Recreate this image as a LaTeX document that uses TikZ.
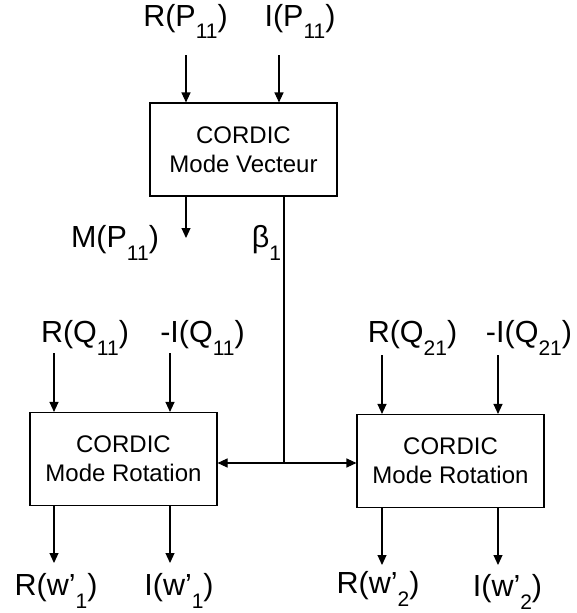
\documentclass[tikz,border=0pt]{standalone}
\usepackage{fontspec}
\setmainfont{Liberation Sans}
\usetikzlibrary{arrows.meta}

\newcommand{\idx}[1]{\raisebox{-13pt}{\fontsize{21}{21}\selectfont #1}}

\tikzset{
    cordic/.style={draw, line width=1.1pt, minimum width=187pt, minimum height=93pt,
        align=center, inner sep=0pt, font=\fontsize{24}{29}\selectfont},
    sig/.style={anchor=base, inner sep=0pt, font=\fontsize{30.5}{30.5}\selectfont},
    flow/.style={line width=1.1pt, -{Triangle[length=10pt,width=9pt]}},
    wire/.style={line width=1.1pt},
}

\begin{document}
\begin{tikzpicture}[x=1pt,y=-1pt]
    \useasboundingbox (0,0) rectangle (577,613);

    % Blocks
    \node[cordic] (vec)  at (243.5,149.5) {CORDIC\\Mode Vecteur};
    \node[cordic] (rot1) at (123.5,459)   {CORDIC\\Mode Rotation};
    \node[cordic] (rot2) at (450.5,461)   {CORDIC\\Mode Rotation};

    % Signals
    \node[sig] (rp)   at (185.5,26)  {R(P\idx{11})};
    \node[sig] (ip)   at (300,26)    {I(P\idx{11})};
    \node[sig] (mp)   at (115,247)   {M(P\idx{11})};
    \node[sig] (beta) at (266.5,247) {β\idx{1}};
    \node[sig] (rq1)  at (85,342)    {R(Q\idx{11})};
    \node[sig] (iq1)  at (202.5,342) {-I(Q\idx{11})};
    \node[sig] (rq2)  at (412.5,342) {R(Q\idx{21})};
    \node[sig] (iq2)  at (529,342)   {-I(Q\idx{21})};
    \node[sig] (rw1)  at (56,595)    {R(w’\idx{1})};
    \node[sig] (iw1)  at (179,595)   {I(w’\idx{1})};
    \node[sig] (rw2)  at (378,593)   {R(w’\idx{2})};
    \node[sig] (iw2)  at (507.5,596) {I(w’\idx{2})};

    % Arrow ends
    \coordinate (inrp)  at (186,55);
    \coordinate (inip)  at (279,55);
    \coordinate (outmp) at (186,238);
    \coordinate (split) at (284,463);
    \coordinate (inrq1) at (54,353);
    \coordinate (iniq1) at (170,353);
    \coordinate (inrq2) at (382,355);
    \coordinate (iniq2) at (498,355);
    \coordinate (outr1) at (54,563);
    \coordinate (outi1) at (170,563);
    \coordinate (outr2) at (382,565);
    \coordinate (outi2) at (498,565);

    % Connections
    \draw[flow] (inrp) -- (inrp |- vec.north);
    \draw[flow] (inip) -- (inip |- vec.north);
    \draw[flow] (vec.south -| outmp) -- (outmp);
    \draw[wire] (vec.south -| split) -- (split);
    \draw[flow] (split) -- (split -| rot1.east);
    \draw[flow] (split) -- (split -| rot2.west);

    \draw[flow] (inrq1) -- (inrq1 |- rot1.north);
    \draw[flow] (iniq1) -- (iniq1 |- rot1.north);
    \draw[flow] (inrq2) -- (inrq2 |- rot2.north);
    \draw[flow] (iniq2) -- (iniq2 |- rot2.north);

    \draw[flow] (rot1.south -| outr1) -- (outr1);
    \draw[flow] (rot1.south -| outi1) -- (outi1);
    \draw[flow] (rot2.south -| outr2) -- (outr2);
    \draw[flow] (rot2.south -| outi2) -- (outi2);

\end{tikzpicture}
\end{document}
